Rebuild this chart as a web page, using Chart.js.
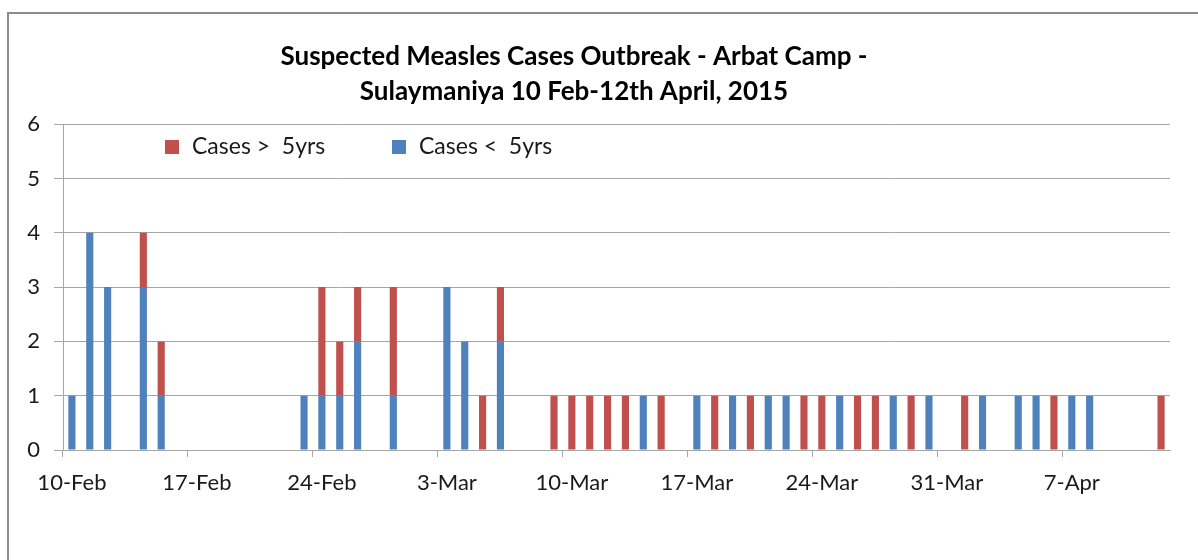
<!DOCTYPE html>
<html>
<head>
<meta charset="utf-8">
<script src="https://cdn.jsdelivr.net/npm/chart.js@4.4.1/dist/chart.umd.min.js"></script>
<style>
    html, body { margin: 0; padding: 0; background: #fff; overflow: hidden; }
    #frame { position: absolute; left: 7px; top: 12px; width: 1400px; height: 800px; border: 2px solid #8c8c8c; }
    #wrap { position: absolute; left: 0; top: 0; width: 1198px; height: 560px; }
</style>
</head>
<body>
<div id="frame"></div>
<div id="wrap"><canvas id="measlesChart" width="1198" height="560"></canvas></div>
<script>
// one category per day, 10 Feb - 12 Apr 2015
const monthNames = ['Jan', 'Feb', 'Mar', 'Apr'];
const dayLabels = [];
for (let d = new Date(2015, 1, 10); d <= new Date(2015, 3, 12); d.setDate(d.getDate() + 1)) {
    dayLabels.push(d.getDate() + '-' + monthNames[d.getMonth()]);
}

const casesUnder5 = [
    1, 4, 3, 0, 3, 1, 0, 0, 0, 0,
    0, 0, 0, 1, 1, 1, 2, 0, 1, 0,
    0, 3, 2, 0, 2, 0, 0, 0, 0, 0,
    0, 0, 1, 0, 0, 1, 0, 1, 0, 1,
    1, 0, 0, 1, 0, 0, 1, 0, 1, 0,
    0, 1, 0, 1, 1, 0, 1, 1, 0, 0,
    0, 0
];
const casesOver5 = [
    0, 0, 0, 0, 1, 1, 0, 0, 0, 0,
    0, 0, 0, 0, 2, 1, 1, 0, 2, 0,
    0, 0, 0, 1, 1, 0, 0, 1, 1, 1,
    1, 1, 0, 1, 0, 0, 1, 0, 1, 0,
    0, 1, 1, 0, 1, 1, 0, 1, 0, 0,
    1, 0, 0, 0, 0, 1, 0, 0, 0, 0,
    0, 1
];
const yTicks = [0, 1, 2, 3, 4, 5, 6];

const gray = '#a6a6a6';
const textColor = '#1a1a1a';
const fontFamily = 'Lato, "Open Sans", sans-serif';

// legend sits inside the plot, red entry first
const insideLegend = {
    id: 'insideLegend',
    afterDraw(chart) {
        const ctx = chart.ctx;
        const entries = [{ ds: 1, x: 165 }, { ds: 0, x: 392 }];
        ctx.save();
        ctx.font = '23px ' + fontFamily;
        ctx.textBaseline = 'middle';
        entries.forEach(e => {
            const ds = chart.data.datasets[e.ds];
            ctx.fillStyle = ds.backgroundColor;
            ctx.fillRect(e.x, 140, 14, 14);
            ctx.fillStyle = textColor;
            ctx.fillText(ds.label, e.x + 27, 147);
        });
        ctx.restore();
    }
};

const ctx = document.getElementById('measlesChart').getContext('2d');
const measlesChart = new Chart(ctx, {
    type: 'bar',
    data: {
        labels: dayLabels,
        datasets: [{
            label: 'Cases <  5yrs',
            data: casesUnder5,
            backgroundColor: '#4f81bd',
            categoryPercentage: 1,
            barPercentage: 0.4
        }, {
            label: 'Cases >  5yrs',
            data: casesOver5,
            backgroundColor: '#c0504d',
            categoryPercentage: 1,
            barPercentage: 0.4
        }]
    },
    options: {
        responsive: false,
        animation: false,
        layout: {
            padding: { left: -22, right: 28, top: 0, bottom: 0 }
        },
        plugins: {
            legend: { display: false },
            tooltip: { enabled: false },
            title: {
                display: true,
                text: ['Suspected Measles Cases Outbreak - Arbat Camp -', 'Sulaymaniya 10 Feb-12th April, 2015'],
                color: '#000',
                font: { family: fontFamily, size: 26, weight: 'bold', lineHeight: 1.35 },
                padding: { top: 39, bottom: 15 }
            }
        },
        scales: {
            x: {
                stacked: true,
                offset: true,
                grid: {
                    offset: true,
                    drawOnChartArea: false,
                    tickLength: 7,
                    color: c => (c.index % 7 === 0 ? gray : 'rgba(0,0,0,0)')
                },
                border: { color: gray },
                ticks: {
                    autoSkip: false,
                    maxRotation: 0,
                    padding: 13,
                    color: textColor,
                    font: { family: fontFamily, size: 22 },
                    callback: (value, index) => (index % 7 === 0 ? dayLabels[index] : '')
                },
                afterFit: scale => { scale.height = 110; }
            },
            y: {
                stacked: true,
                min: 0,
                max: 6,
                afterBuildTicks: scale => { scale.ticks = yTicks.map(v => ({ value: v })); },
                grid: { color: gray, tickLength: 9 },
                border: { color: gray },
                ticks: {
                    padding: 14,
                    color: textColor,
                    font: { family: fontFamily, size: 22 }
                },
                afterFit: scale => { scale.width = 85; }
            }
        }
    },
    plugins: [insideLegend]
});
</script>
</body>
</html>
